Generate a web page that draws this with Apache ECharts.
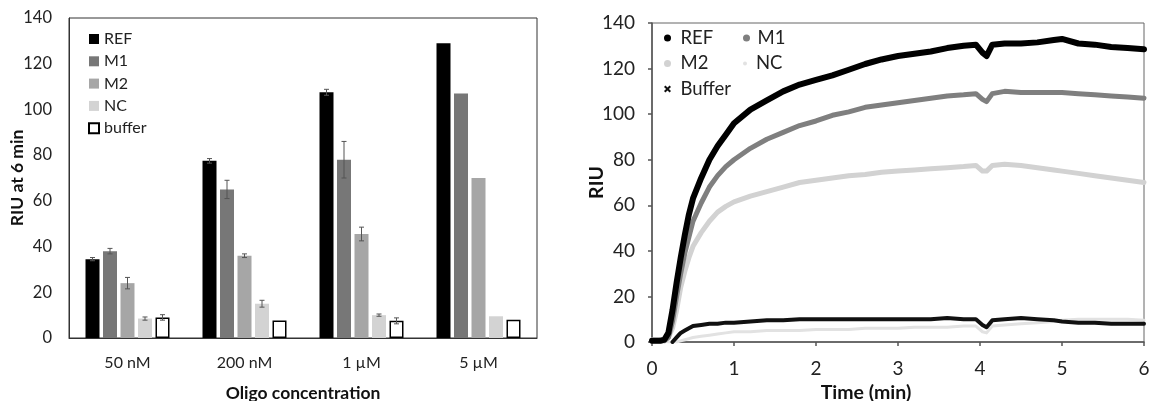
<!DOCTYPE html>
<html>
<head>
<meta charset="utf-8">
<title>RIU</title>
<script src="https://cdn.jsdelivr.net/npm/echarts@6/dist/echarts.min.js"></script>
<style>
html, body { margin: 0; padding: 0; background: #fff; }
#BarChart { position: absolute; left: 0; top: 0; width: 575px; height: 401px; }
#CurveChart { position: absolute; left: 575px; top: 0; width: 575px; height: 401px; }
</style>
</head>
<body>
<div id="BarChart"></div>
<div id="CurveChart"></div>
<script>
// 柱状图数据 (RIU at 6 min)
var concentrations = ['50 nM', '200 nM', '1 µM', '5 µM'];
var refBar = [34.5, 77.5, 107.5, 129];
var refErr = [0.7, 1, 1.3, 0];
var m1Bar = [38, 65, 78, 107];
var m1Err = [1.2, 4, 8, 0];
var m2Bar = [24, 36, 45.5, 70];
var m2Err = [2.5, 0.8, 3, 0];
var ncBar = [8.5, 15, 10, 9.5];
var ncErr = [0.7, 1.5, 0.5, 0];
var bufBar = [9, 7.7, 7.5, 8];
var bufErr = [1.2, 0, 1.3, 0];
var riuMax = 140, riuStep = 20;

// 曲线数据 (time in min)
var times = [0, 0.1, 0.15, 0.2, 0.25, 0.3, 0.35, 0.4, 0.45, 0.5, 0.6, 0.7, 0.8, 0.9, 1.0,
  1.2, 1.4, 1.6, 1.8, 2.0, 2.2, 2.4, 2.6, 2.8, 3.0, 3.2, 3.4, 3.6, 3.8, 3.95,
  4.03, 4.08, 4.15, 4.3, 4.5, 4.7, 4.9, 5.0, 5.2, 5.4, 5.6, 5.8, 6.0];
var refCurve = [0.5, 0.5, 1, 4, 14, 26, 37, 47, 56, 63, 72, 80, 86, 91, 96,
  102, 106, 110, 113, 115, 117, 119.5, 122, 124, 125.5, 126.5, 127.5, 129, 130, 130.5,
  127, 125.5, 130.5, 131, 131, 131.5, 132.5, 133, 131, 130.5, 129.5, 129, 128.5];
var m1Curve = [0.5, 0.5, 0.5, 2, 9, 20, 30, 39, 46, 53, 61, 68, 73, 77, 80,
  85, 89, 92, 95, 97, 99.5, 101, 103, 104, 105, 106, 107, 108, 108.5, 109,
  106.5, 105.5, 109, 110, 109.5, 109.5, 109.5, 109.5, 109, 108.5, 108, 107.5, 107];
var m2Curve = [1, 1, 1, 2, 6, 14, 24, 31, 37, 42, 48, 53, 57, 59.5, 61.5,
  64, 66, 68, 70, 71, 72, 73, 73.5, 74.5, 75, 75.5, 76, 76.5, 77, 77.5,
  75, 75, 77.5, 78, 77.5, 76.5, 75.5, 75, 74, 73, 72, 71, 70];
var ncCurve = [0.5, 0.5, 0.5, 0, 0, 0, 0.5, 1, 1.5, 2, 2.5, 3, 3.5, 4, 4.5,
  4.5, 5, 5, 5, 5.5, 5.5, 5.5, 6, 6, 6, 6.5, 6.5, 6.5, 7, 7,
  4.5, 4, 7, 7.5, 8, 8.5, 9, 9.5, 10, 10, 10, 10, 9.5];
var bufferCurve = [null, null, null, null, 0, 2, 4, 5, 6, 7, 7.5, 8, 8, 8.5, 8.5,
  9, 9.5, 9.5, 10, 10, 10, 10, 10, 10, 10, 10, 10, 10.5, 10, 10,
  7.5, 6.5, 9.5, 10, 10.5, 10, 9.5, 9, 8.5, 8.5, 8, 8, 8];

var FONT = 'Lato, "Noto Sans", sans-serif';
var barW = 14, barGapPx = 3.5;

function errorSeries(vals, errs, idx) {
  var data = [];
  vals.forEach(function (v, i) { if (errs[i] > 0) data.push([i, v, errs[i]]); });
  return {
    type: 'custom',
    silent: true,
    z: 5,
    renderItem: function (params, api) {
      var x = api.coord([api.value(0), 0])[0] + (idx - 2) * (barW + barGapPx);
      var hi = api.coord([api.value(0), api.value(1) + api.value(2)])[1];
      var lo = api.coord([api.value(0), api.value(1) - api.value(2)])[1];
      var c = 2.5, st = { stroke: '#555', lineWidth: 1 };
      return {
        type: 'group',
        children: [
          { type: 'line', shape: { x1: x, y1: hi, x2: x, y2: lo }, style: st },
          { type: 'line', shape: { x1: x - c, y1: hi, x2: x + c, y2: hi }, style: st },
          { type: 'line', shape: { x1: x - c, y1: lo, x2: x + c, y2: lo }, style: st }
        ]
      };
    },
    data: data
  };
}

function barSeries(name, vals, color, border) {
  return {
    name: name,
    type: 'bar',
    data: vals,
    barWidth: barW,
    barGap: '25%',
    itemStyle: border ? { color: '#fff', borderColor: '#000', borderWidth: 1.5 } : { color: color }
  };
}

var BarChart = echarts.init(document.getElementById('BarChart'));
var barOption = {
  animation: false,
  textStyle: { fontFamily: FONT },
  grid: { left: 69, top: 18, right: 38, bottom: 63, outerBoundsMode: 'none', show: true, borderColor: '#333', borderWidth: 1 },
  legend: {
    orient: 'vertical',
    left: 88,
    top: 30,
    padding: 0,
    itemWidth: 10,
    itemHeight: 10,
    itemGap: 4.3,
    icon: 'rect',
    textStyle: { fontSize: 16, lineHeight: 18, color: '#222', fontFamily: FONT },
    data: ['REF', 'M1', 'M2', 'NC', 'buffer']
  },
  xAxis: {
    type: 'category',
    data: concentrations,
    axisLine: { lineStyle: { color: '#333', width: 1 } },
    axisTick: { show: false },
    axisLabel: { fontSize: 16, color: '#222', margin: 17 },
    name: 'Oligo concentration',
    nameLocation: 'middle',
    nameGap: 46,
    nameMoveOverlap: false,
    nameTextStyle: { fontSize: 17.5, fontWeight: 'bold', color: '#111' }
  },
  yAxis: {
    type: 'value',
    min: 0,
    max: riuMax,
    interval: riuStep,
    splitLine: { show: false },
    axisLine: { show: true, lineStyle: { color: '#333' } },
    axisTick: { show: false },
    axisLabel: { fontSize: 16.5, color: '#222', margin: 17 },
    name: 'RIU at 6 min',
    nameLocation: 'middle',
    nameGap: 43,
    nameMoveOverlap: false,
    nameTextStyle: { fontSize: 17.5, fontWeight: 'bold', color: '#111' }
  },
  series: [
    barSeries('REF', refBar, '#000000'),
    barSeries('M1', m1Bar, '#777777'),
    barSeries('M2', m2Bar, '#a6a6a6'),
    barSeries('NC', ncBar, '#d3d3d3'),
    barSeries('buffer', bufBar, '#ffffff', true),
    errorSeries(refBar, refErr, 0),
    errorSeries(m1Bar, m1Err, 1),
    errorSeries(m2Bar, m2Err, 2),
    errorSeries(ncBar, ncErr, 3),
    errorSeries(bufBar, bufErr, 4)
  ]
};
BarChart.setOption(barOption);

// 曲线图
function pairs(vals) {
  return times.map(function (t, i) { return [t, vals[i]]; });
}
function curveSeries(name, vals, color, width) {
  return {
    name: name,
    type: 'line',
    data: pairs(vals),
    showSymbol: false,
    symbol: 'circle',
    color: color,
    itemStyle: { color: color },
    lineStyle: { color: color, width: width, join: 'round', cap: 'round' }
  };
}
var crossIcon = 'path://M2,0 L5,3 L8,0 L10,2 L7,5 L10,8 L8,10 L5,7 L2,10 L0,8 L3,5 L0,2 Z';
var legendText = { fontSize: 18.5, lineHeight: 20, color: '#222', fontFamily: FONT };

var CurveChart = echarts.init(document.getElementById('CurveChart'));
var curveOption = {
  animation: false,
  textStyle: { fontFamily: FONT },
  grid: { left: 77, top: 23, right: 6, bottom: 59, outerBoundsMode: 'none', show: true, borderColor: '#666', borderWidth: 1 },
  legend: [
    {
      orient: 'vertical', left: 89, top: 28, padding: 0, itemWidth: 16, itemHeight: 7, itemGap: 5.5,
      textStyle: legendText,
      data: [{ name: 'REF', icon: 'circle' }, { name: 'M2', icon: 'circle' }, { name: 'Buffer', icon: crossIcon }]
    },
    {
      orient: 'vertical', left: 168, top: 28, padding: 0, itemWidth: 12, itemHeight: 7,
      textStyle: legendText,
      data: [{ name: 'M1', icon: 'circle' }]
    },
    {
      orient: 'vertical', left: 168, top: 53.5, padding: 0, itemWidth: 12, itemHeight: 4,
      textStyle: legendText,
      data: [{ name: 'NC', icon: 'circle' }]
    }
  ],
  xAxis: {
    type: 'value',
    min: 0,
    max: 6,
    interval: 1,
    splitLine: { show: false },
    axisLine: { lineStyle: { color: '#555', width: 1.5 } },
    axisTick: { show: true, length: 4, lineStyle: { color: '#555', width: 1.5 } },
    axisLabel: { fontSize: 19, color: '#222', margin: 17 },
    name: 'Time (min)',
    nameLocation: 'middle',
    nameGap: 41,
    nameMoveOverlap: false,
    nameTextStyle: { fontSize: 19.5, fontWeight: 'bold', color: '#111', padding: [0, 64, 0, 0] }
  },
  yAxis: {
    type: 'value',
    min: 0,
    max: riuMax,
    interval: riuStep,
    splitLine: { show: false },
    axisLine: { show: true, lineStyle: { color: '#555', width: 1.5 } },
    axisTick: { show: true, length: 4, lineStyle: { color: '#555', width: 1.5 } },
    axisLabel: { fontSize: 19, color: '#222', margin: 17 },
    name: 'RIU',
    nameLocation: 'middle',
    nameGap: 45,
    nameMoveOverlap: false,
    nameTextStyle: { fontSize: 19.5, fontWeight: 'bold', color: '#111' }
  },
  series: [
    curveSeries('NC', ncCurve, '#e2e2e2', 3),
    curveSeries('Buffer', bufferCurve, '#111111', 4),
    curveSeries('M2', m2Curve, '#d2d2d2', 5),
    curveSeries('M1', m1Curve, '#7f7f7f', 5),
    curveSeries('REF', refCurve, '#000000', 6)
  ]
};
CurveChart.setOption(curveOption);
</script>
</body>
</html>
